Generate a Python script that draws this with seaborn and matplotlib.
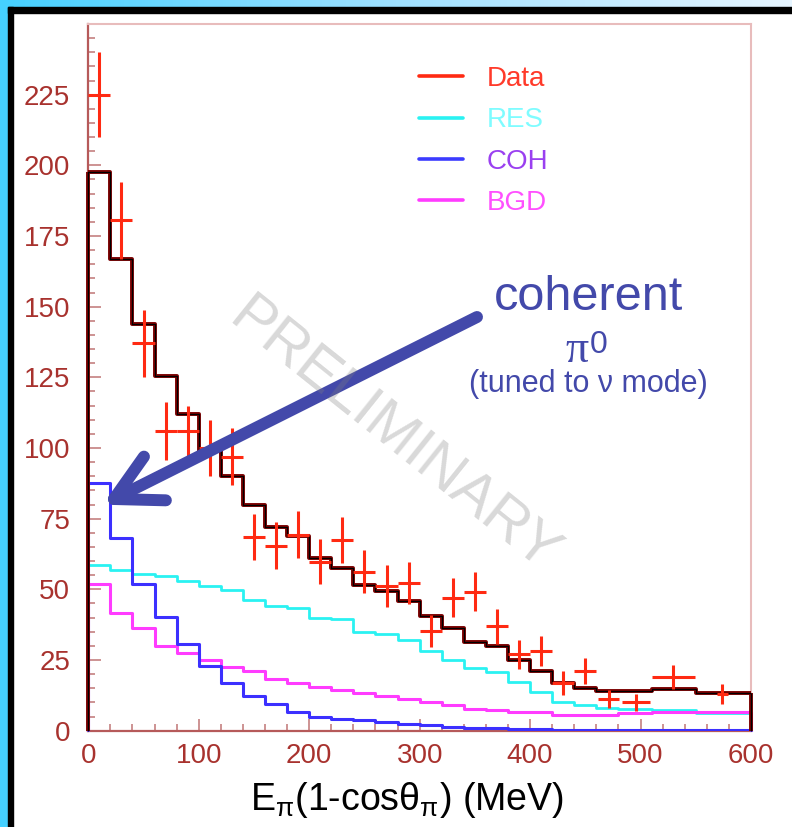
import numpy as np
import pandas as pd
import matplotlib
matplotlib.use("Agg")
import matplotlib.pyplot as plt
from matplotlib.lines import Line2D
from matplotlib.patches import Rectangle
from matplotlib.ticker import MultipleLocator
from matplotlib.colors import LinearSegmentedColormap
import seaborn as sns

# Histogram binning: 20 MeV bins up to 480 MeV, wider bins in the tail
bin_edges = [0, 20, 40, 60, 80, 100, 120, 140, 160, 180, 200, 220, 240, 260,
             280, 300, 320, 340, 360, 380, 400, 420, 440, 460, 480, 510, 550, 600]

# Monte Carlo predictions (events per bin)
mc_total = [197.5, 167, 144, 125.5, 112, 99, 90, 80, 72, 69, 61, 57.5, 51.5,
            49.5, 46, 40.5, 36.5, 31.5, 30, 25, 21, 17, 15.2, 14, 14, 14.6, 13.3]
res = [58.6, 56.8, 55.6, 54.7, 53, 51.2, 49.8, 46.2, 44.2, 43.3, 40, 39.4, 35,
       34.1, 32.1, 28.3, 25, 22.2, 20.7, 17.3, 13.7, 10.3, 9.1, 7.9, 7.6, 7.3, 6.2]
coh = [87.5, 68.2, 51.8, 40.3, 30.5, 23, 17, 12.3, 9.4, 6.7, 5, 4.3, 3.8, 3.2,
       2.4, 1.9, 1.2, 1.0, 0.8, 0.6, 0.5, 0.4, 0.4, 0.3, 0.3, 0.3, 0.2]
bgd = [51.8, 41.5, 36.2, 30, 27.6, 25, 22.6, 21.1, 18.2, 17, 15.6, 14.5, 13.2,
       12.3, 11.2, 10, 9.2, 7.5, 7.4, 6.6, 6.5, 5.6, 5.6, 5.6, 6.2, 6.7, 6.5]

# Measured data points
data_x = [10, 30, 50, 70, 90, 110, 130, 150, 170, 190, 210, 230, 250, 270, 290,
          310, 330, 350, 370, 390, 410, 430, 450, 471, 496, 529.5, 574]
data_xerr = [10, 10, 10, 10, 10, 10, 10, 10, 10, 10, 10, 10, 10, 10, 10,
             10, 10, 10, 10, 10, 10, 10, 10, 9.8, 12.7, 19.5, 5]
data_y = [225, 180.5, 137, 106, 106, 100, 97, 68.6, 65.5, 69.4, 59.8, 67.4, 56.2,
          51.2, 52.2, 35.3, 47.1, 49.2, 37, 27, 28.3, 17, 21.1, 11.2, 10, 18.9, 13]
data_yerr = [15, 13.5, 12, 10.3, 9, 10, 10, 8.2, 8.2, 8.3, 8, 8.2, 7.6, 7.4, 7.5,
             5.6, 6.8, 7, 6.2, 5.2, 5.3, 4.2, 4.5, 3.3, 3, 4.2, 3.5]

x_ticks = [0, 100, 200, 300, 400, 500, 600]
y_ticks = [0, 25, 50, 75, 100, 125, 150, 175, 200, 225]

legend_labels = ["Data", "RES", "COH", "BGD"]

sns.set_style("white")
plt.rcParams["font.family"] = ["Liberation Sans", "DejaVu Sans"]

W, H = 792, 827
fig = plt.figure(figsize=(W / 100, H / 100), dpi=100, facecolor="white")


def fx(px):
    return px / W


def fy(py):
    return 1 - py / H


# slide frame: cyan strip on the left, gradient bar on top, black inner border
fig.patches.append(Rectangle((0, 0), fx(8.3), 1, transform=fig.transFigure,
                             color="#45d0ff", zorder=0))
bar_ax = fig.add_axes([0, fy(7.3), 1, 7.3 / H])
grad = np.linspace(0, 1, 256)[None, :]
frame_cmap = LinearSegmentedColormap.from_list(
    "frame", ["#45d0ff", "#9fe0ff", "#e6f5ff"])
bar_ax.imshow(grad, aspect="auto", cmap=frame_cmap, extent=[0, 1, 0, 1])
bar_ax.axis("off")
fig.patches.append(Rectangle((fx(8.3), 0), fx(13.3) - fx(8.3), fy(7.3),
                             transform=fig.transFigure, color="black", zorder=1))
fig.patches.append(Rectangle((fx(8.3), fy(13.3)), 1 - fx(8.3), fy(7.3) - fy(13.3),
                             transform=fig.transFigure, color="black", zorder=1))

ax = fig.add_axes([fx(88.3), fy(730.7), fx(751) - fx(88.3), fy(24) - fy(730.7)])
ax.set_facecolor("white")

edges = np.array(bin_edges, dtype=float)
centers = 0.5 * (edges[:-1] + edges[1:])
frame = pd.DataFrame({"E": centers, "RES": res, "COH": coh, "BGD": bgd,
                      "TOTAL": mc_total})

series = [("RES", "#2af2f2", 2.0),
          ("BGD", "#ff3cff", 2.2),
          ("COH", "#3c30ff", 2.2),
          ("TOTAL", "#7a0000", 2.8),
          ("TOTAL", "black", 0.9)]
for col, color, lw in series:
    sns.histplot(data=frame, x="E", weights=col, bins=bin_edges, element="step",
                 fill=False, color=color, linewidth=lw, ax=ax, zorder=3)
    vals = frame[col].to_numpy()
    ax.vlines([edges[0], edges[-1]], 0, [vals[0], vals[-1]], colors=color,
              linewidth=lw, clip_on=False, zorder=3)

ax.errorbar(data_x, data_y, xerr=data_xerr, yerr=data_yerr, fmt="none",
            ecolor="#ff2a12", elinewidth=2.2, capsize=0, zorder=5)

ax.set_xlim(0, 600)
ax.set_ylim(0, 250)
ax.set_xticks(x_ticks)
ax.set_yticks(y_ticks)
ax.xaxis.set_minor_locator(MultipleLocator(20))
ax.yaxis.set_minor_locator(MultipleLocator(5))
ax.tick_params(which="both", bottom=True, left=True, top=False, right=False,
               direction="in", color="#c98a8a", width=1.3,
               labelcolor="#a8322e", labelsize=20)
ax.tick_params(which="major", length=9)
ax.tick_params(which="minor", length=5)
ax.tick_params(axis="y", which="both", pad=13)
ax.tick_params(axis="x", which="both", pad=9)
for s in ["top", "right"]:
    ax.spines[s].set_color("#e8bcbc")
    ax.spines[s].set_linewidth(1.5)
for s in ["left", "bottom"]:
    ax.spines[s].set_color("#b65a5a")
    ax.spines[s].set_linewidth(1.6)

ax.set_ylabel("")
ax.set_xlabel(r"E$_{\mathregular{\pi}}$(1-cos$\mathregular{\theta_{\pi}}$) (MeV)",
              fontsize=27, color="black")
ax.xaxis.set_label_coords((407 - 88.3) / 662.7, (730.7 - 780) / 706.7)

handle_colors = ["#ff2a12", "#2af2f2", "#3c3cff", "#ff3cff"]
text_colors = ["#ff3a2a", "#7ffcff", "#9a40f0", "#ff50ff"]
handles = [Line2D([], [], color=c, lw=2.6) for c in handle_colors]
ax.legend(handles, legend_labels, loc="upper left",
          bbox_to_anchor=(fx(419), fy(66)), bbox_transform=fig.transFigure,
          frameon=False, fontsize=20, handlelength=1.58, handletextpad=0.86,
          labelspacing=0.55, borderpad=0, borderaxespad=0,
          labelcolor=text_colors)

note_color = "#4349aa"
fig.text(fx(588), fy(310), "coherent", fontsize=35, color=note_color,
         ha="center", va="baseline")
fig.text(fx(589), fy(361.5), "π", family=["Liberation Serif"], fontsize=33,
         color=note_color, ha="right", va="baseline")
fig.text(fx(590), fy(353), "0", fontsize=23, color=note_color,
         ha="left", va="baseline")
fig.text(fx(588), fy(391.7), "(tuned to ν mode)", fontsize=22, color=note_color,
         ha="center", va="baseline")

ax.annotate("", xy=(fx(102.6), fy(504.7)), xycoords="figure fraction",
            xytext=(fx(477), fy(317)), textcoords="figure fraction",
            arrowprops=dict(arrowstyle="->,head_length=33,head_width=17.6",
                            color=note_color, lw=8.6, mutation_scale=1,
                            capstyle="round", joinstyle="round",
                            shrinkA=0, shrinkB=0),
            zorder=8, annotation_clip=False)

fig.text(fx(393), fy(436), "PRELIMINARY", rotation=-38.7, fontsize=43,
         color="#808080", alpha=0.3, ha="center", va="center",
         rotation_mode="anchor", zorder=10)

fig.savefig("out.png", dpi=100, facecolor="white")
